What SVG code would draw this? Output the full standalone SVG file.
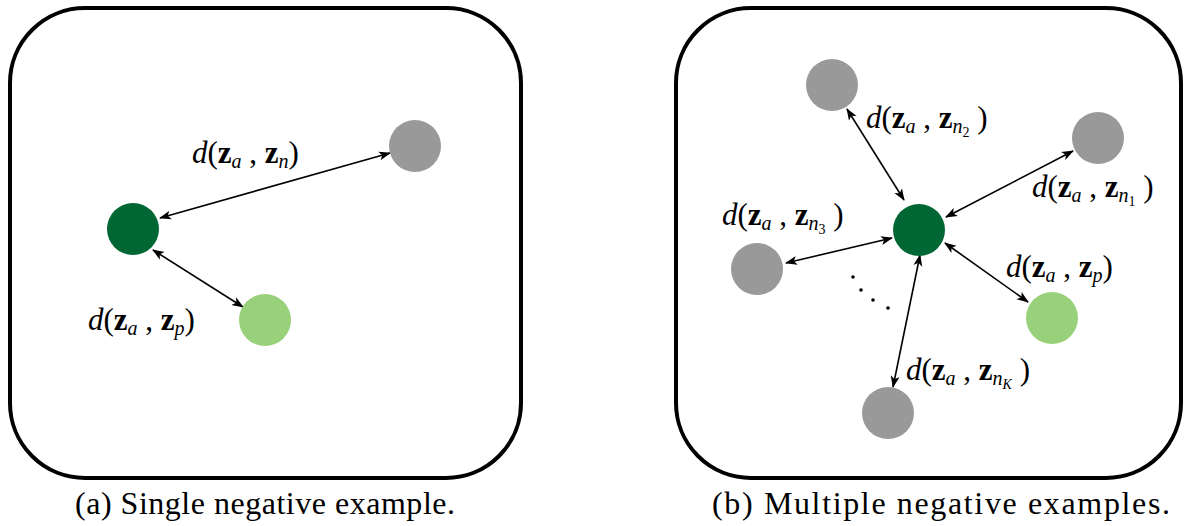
<svg xmlns="http://www.w3.org/2000/svg" width="1185" height="526" viewBox="0 0 1185 526">
<defs>
<style>
.box{fill:#fff;stroke:#000;stroke-width:4}
.anc{fill:#006633}
.pos{fill:#99d17a}
.neg{fill:#999999}
.edge{stroke:#000;stroke-width:1.6;fill:none;marker-start:url(#ah);marker-end:url(#ah)}
.lbl{font-size:31px;fill:#000}
.it{font-style:italic}
.bf{font-weight:bold}
.sub{font-style:italic;font-size:20px}
.ss{font-size:14px}
.cap{font-size:32px;fill:#000}
</style>
<marker id="ah" viewBox="0 0 12 10" refX="11" refY="5" markerWidth="12" markerHeight="10" markerUnits="userSpaceOnUse" orient="auto-start-reverse">
<path d="M0,0.5 L12,5 L0,9.5 L3,5 Z" fill="#000"/>
</marker>
</defs>
<rect fill="#fff" width="1185" height="526"/>
<rect class="box" x="10" y="8" width="511" height="470" rx="75"/>
<rect class="box" x="676" y="8" width="505" height="470" rx="75"/>
<g id="connectors">
<line class="edge" x1="160" y1="218" x2="390" y2="153"/>
<line class="edge" x1="153" y1="250" x2="243" y2="307"/>
<line class="edge" x1="847" y1="109" x2="904" y2="200"/>
<line class="edge" x1="1073" y1="151" x2="946" y2="217"/>
<line class="edge" x1="786" y1="263" x2="892" y2="238"/>
<line class="edge" x1="945" y1="243" x2="1028" y2="302"/>
<line class="edge" x1="920" y1="255" x2="893" y2="387"/>
</g>
<g id="a-anchor"><circle class="anc" cx="133" cy="229" r="26"/></g>
<g id="a-neg"><circle class="neg" cx="415" cy="146" r="26"/></g>
<g id="a-pos"><circle class="pos" cx="265" cy="320" r="26"/></g>
<g id="b-anchor"><circle class="anc" cx="919" cy="230" r="26"/></g>
<g id="b-n1"><circle class="neg" cx="1098" cy="138" r="26"/></g>
<g id="b-n2"><circle class="neg" cx="832" cy="85" r="26"/></g>
<g id="b-n3"><circle class="neg" cx="757" cy="269" r="26"/></g>
<g id="b-nK"><circle class="neg" cx="888" cy="413" r="26"/></g>
<g id="b-pos"><circle class="pos" cx="1052" cy="318" r="26"/></g>
<g id="dots" fill="#000">
<circle cx="853" cy="277" r="1.8"/><circle cx="861" cy="290" r="1.8"/><circle cx="873" cy="300" r="1.8"/><circle cx="888" cy="308" r="1.8"/>
</g>
<g id="labels" font-family="'Liberation Serif', 'DejaVu Serif', serif">
<text class="lbl" x="192" y="163"><tspan class="it">d</tspan>(<tspan class="bf">z</tspan><tspan class="sub" dy="5">a</tspan><tspan dy="-5"> , </tspan><tspan class="bf">z</tspan><tspan class="sub" dy="5">n</tspan><tspan dy="-5">)</tspan></text>
<text class="lbl" x="88" y="330"><tspan class="it">d</tspan>(<tspan class="bf">z</tspan><tspan class="sub" dy="5">a</tspan><tspan dy="-5"> , </tspan><tspan class="bf">z</tspan><tspan class="sub" dy="5">p</tspan><tspan dy="-5">)</tspan></text>
<text class="lbl" x="866" y="128"><tspan class="it">d</tspan>(<tspan class="bf">z</tspan><tspan class="sub" dy="5">a</tspan><tspan dy="-5"> , </tspan><tspan class="bf">z</tspan><tspan class="sub" dy="5">n</tspan><tspan class="ss" dy="4">2</tspan><tspan dy="-9"> )</tspan></text>
<text class="lbl" x="1032" y="197"><tspan class="it">d</tspan>(<tspan class="bf">z</tspan><tspan class="sub" dy="5">a</tspan><tspan dy="-5"> , </tspan><tspan class="bf">z</tspan><tspan class="sub" dy="5">n</tspan><tspan class="ss" dy="4">1</tspan><tspan dy="-9"> )</tspan></text>
<text class="lbl" x="722" y="225"><tspan class="it">d</tspan>(<tspan class="bf">z</tspan><tspan class="sub" dy="5">a</tspan><tspan dy="-5"> , </tspan><tspan class="bf">z</tspan><tspan class="sub" dy="5">n</tspan><tspan class="ss" dy="4">3</tspan><tspan dy="-9"> )</tspan></text>
<text class="lbl" x="1006" y="277"><tspan class="it">d</tspan>(<tspan class="bf">z</tspan><tspan class="sub" dy="5">a</tspan><tspan dy="-5"> , </tspan><tspan class="bf">z</tspan><tspan class="sub" dy="5">p</tspan><tspan dy="-5">)</tspan></text>
<text class="lbl" x="906" y="380"><tspan class="it">d</tspan>(<tspan class="bf">z</tspan><tspan class="sub" dy="5">a</tspan><tspan dy="-5"> , </tspan><tspan class="bf">z</tspan><tspan class="sub" dy="5">n</tspan><tspan class="ss it" dy="4">K</tspan><tspan dy="-9"> )</tspan></text>
</g>
<g id="captions" font-family="'Liberation Serif', 'DejaVu Serif', serif">
<text class="cap" x="75" y="514" textLength="380" lengthAdjust="spacing">(a) Single negative example.</text>
<text class="cap" x="712" y="514" textLength="458" lengthAdjust="spacing">(b) Multiple negative examples.</text>
</g>
</svg>
